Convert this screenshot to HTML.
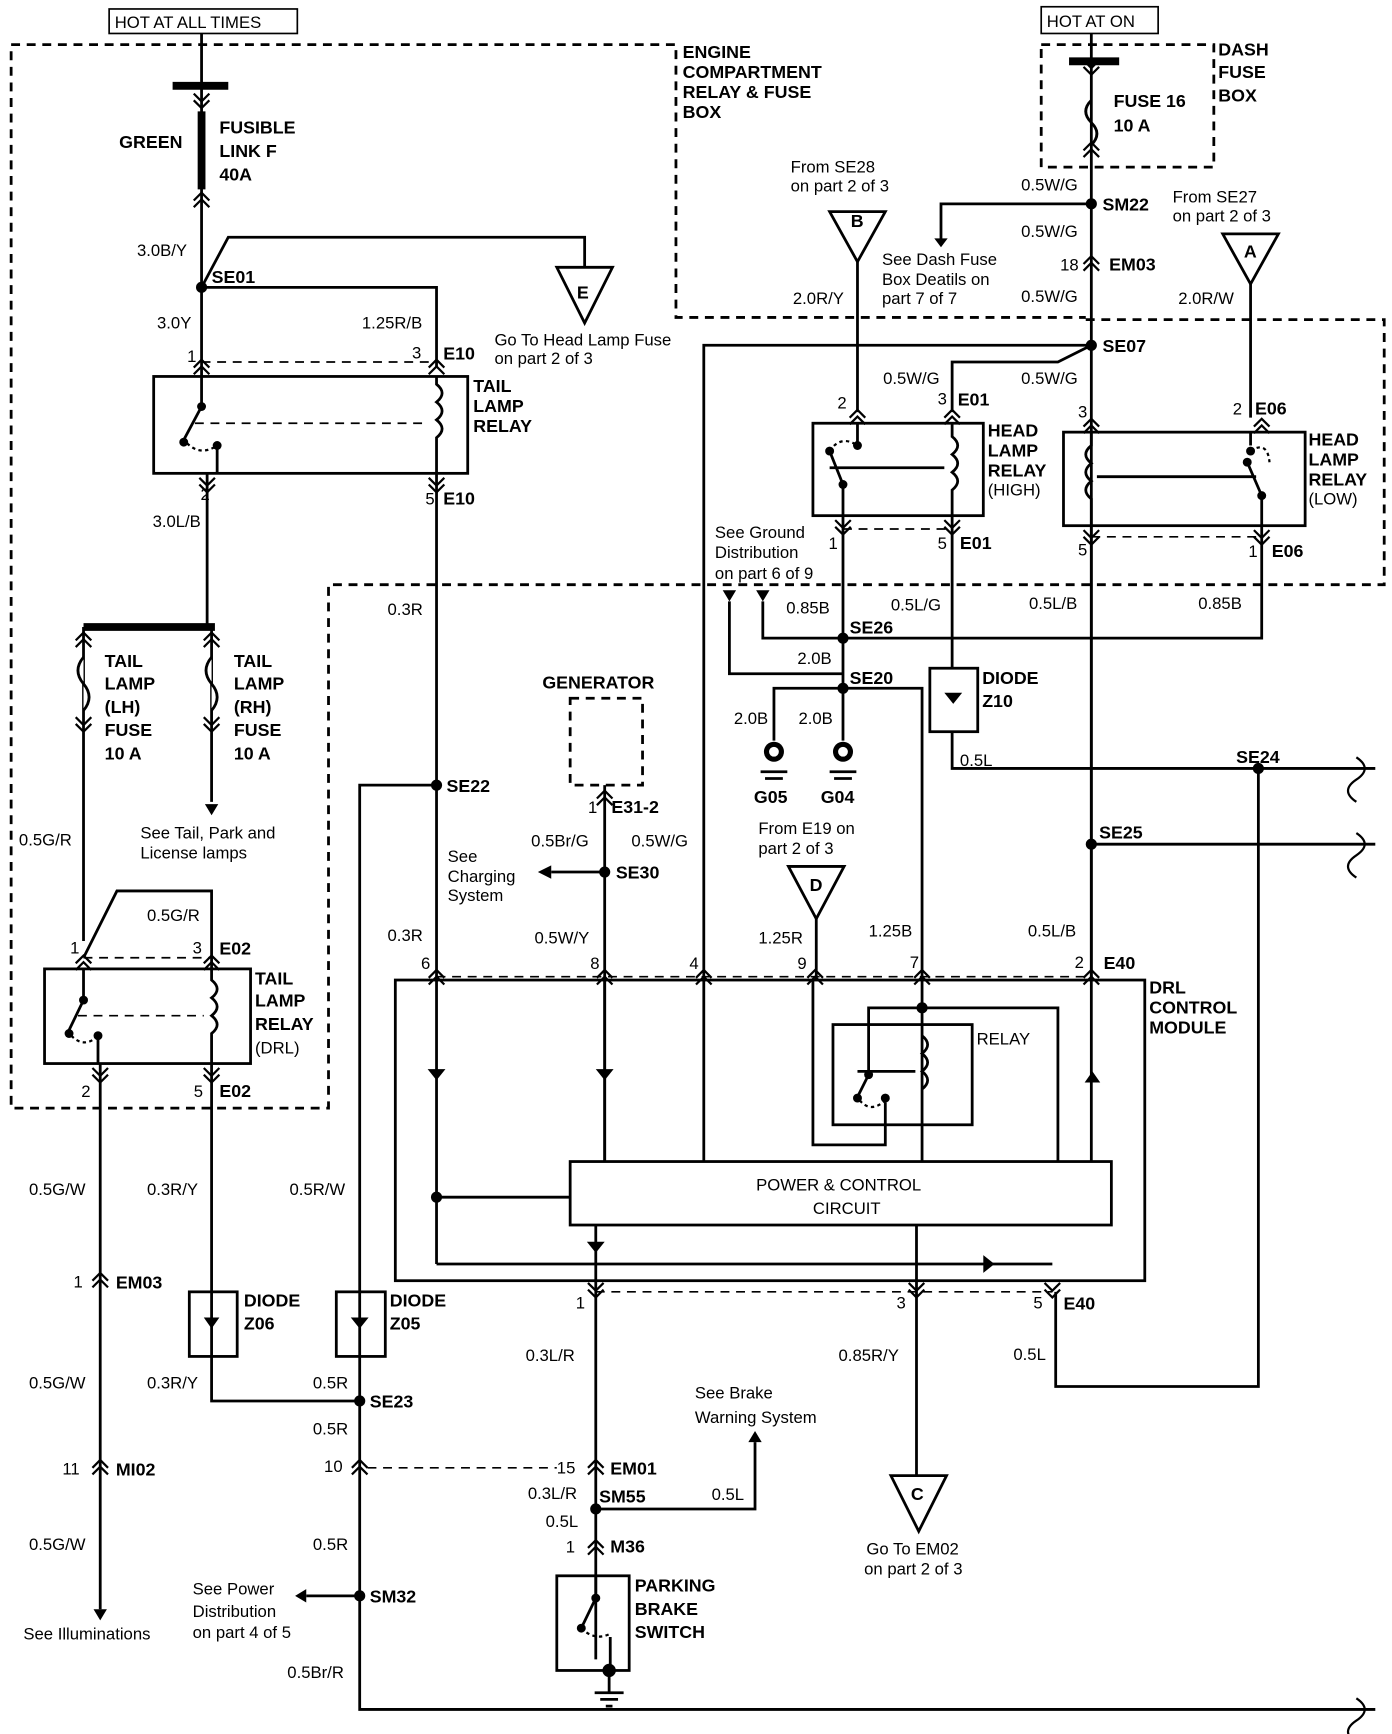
<!DOCTYPE html>
<html><head><meta charset="utf-8"><style>
html,body{margin:0;padding:0;background:#fff}
svg{display:block}
text{font-family:"Liberation Sans",sans-serif;font-size:15px;fill:#000}
.b{font-weight:bold;font-size:16px}
</style></head><body>
<svg width="1392" height="1734" viewBox="0 0 1250 1557" xmlns="http://www.w3.org/2000/svg">
<defs>
<path id="c" d="M-7,5 L0,-2 L7,5 M-7,11 L0,4 L7,11" fill="none" stroke="#000" stroke-width="2"/>
<path id="cd" d="M-7,-5 L0,2 L7,-5 M-7,-11 L0,-4 L7,-11" fill="none" stroke="#000" stroke-width="2"/>
</defs>
<g fill="none" stroke="#000" stroke-width="2.5">
<rect x="98" y="8" width="169" height="22" stroke-width="1.5"/>
<rect x="935" y="6" width="105" height="24" stroke-width="1.5"/>
<g stroke-dasharray="8,6" stroke-width="2.5">
<path d="M10,40 H607 V285 H975 M975,287 H1243 V525 H295 V995 H10 V40"/>
<rect x="935" y="40" width="155" height="110"/>
<rect x="512" y="627" width="65" height="78"/>
<path d="M181,325 H392 M757,475 H855 M980,482 H1133 M75,860 H190 M392,877 H980 M535,1160 H945 M330,1318 H500" stroke-width="1.5"/>
</g>
<path d="M181,30 V338"/>
<path d="M155,77 H205" stroke-width="7"/>
<path d="M181,100 V170" stroke-width="7"/>
<path d="M181,258 L205,213 H525 V240 M181,258 H392 V330"/>
<path d="M500,240 H550 L525,290 Z"/>
<rect x="138" y="338" width="282" height="87"/>
<path d="M181,338 V365 L165,395 M195,400 V425 M186,425 V560 M392,338 V345 q10,8 0,16 q10,8 0,16 q10,8 0,16 V425 M392,425 V1135"/>
<path d="M168,398 q12,12 27,2" stroke-dasharray="3,3" stroke-width="2"/>
<path d="M175,380 H385" stroke-dasharray="8,6" stroke-width="1.5"/>
<path d="M75,563 H193" stroke-width="7"/>
<path d="M75,563 V845 M190,563 V720"/>
<path d="M75,590 q-10,12 0,24 q10,12 0,24 M190,590 q-10,12 0,24 q10,12 0,24" fill="#fff"/>
<path d="M75,860 L105,800 H190 V870"/>
<rect x="40" y="870" width="185" height="85"/>
<path d="M75,870 V898 L62,925 M88,930 V955 M190,870 V880 q10,8 0,16 q10,8 0,16 q10,8 0,16 V955"/>
<path d="M64,930 q12,12 24,0" stroke-dasharray="3,3" stroke-width="2"/>
<path d="M70,912 H183" stroke-dasharray="8,6" stroke-width="1.5"/>
<path d="M90,955 V1445 M190,955 V1258 H323"/>
<rect x="170" y="1160" width="43" height="58"/>
<path d="M392,705 H323 V1535 H1235"/>
<rect x="302" y="1160" width="44" height="58"/>
<path d="M323,1433 H275"/>
<rect x="355" y="880" width="673" height="270"/>
<path d="M543,705 V1043 M543,783 H495 M632,1043 V310 H980 M980,30 V880 M980,183 H845 V215 M980,310 L950,325 H855 V370 M770,235 V370"/>
<path d="M745,190 H795 L770,235 Z M1098,210 H1148 L1123,255 Z M708,778 H758 L733,825 Z M800,1325 H850 L825,1375 Z"/>
<path d="M1123,255 V375"/>
<rect x="730" y="380" width="153" height="83"/>
<rect x="955" y="388" width="217" height="84"/>
<!-- head lamp high internals -->
<path d="M770,380 V400 M757,463 V435 M745,405 L757,435 M855,380 V392 q10,8 0,16 q10,8 0,16 q10,8 0,16 V463 M745,420 H848" />
<path d="M745,405 q10,-15 25,-5" stroke-dasharray="3,3" stroke-width="2"/>
<!-- head lamp low internals -->
<path d="M980,388 V400 q-10,8 0,16 q-10,8 0,16 q-10,8 0,16 V472 M1123,388 V400 M1133,472 V445 L1120,415 M985,428 H1128" />
<path d="M1123,405 q15,-10 17,10" stroke-dasharray="3,3" stroke-width="2"/>
<path d="M757,463 V618 M685,540 V573 H1133 V472 M655,540 V605 H757 M757,618 H695 V665 M757,618 V665 M757,618 H828 V880 M855,463 V600 M855,657 V690 H1235 M1130,690 V1245 H948 V1160 M980,758 H1235 M733,825 V880"/>
<rect x="835" y="600" width="43" height="57"/>
<path d="M980,472 V1043"/>
<rect x="748" y="920" width="125" height="90"/>
<path d="M392,1135 H945 M535,1100 V1160 M823,1100 V1325 M535,1160 V1490 M535,1355 H678 V1295 M730,880 V1028 H795 V990 M780,940 V965 L770,985 M828,880 V1043 M780,940 V905 H950 V1043 M828,920 V930 q10,8 0,16 q10,8 0,16 q10,8 0,16 V1043 M392,1075 H512 M543,880 V1043 M770,962 H822"/>
<path d="M772,988 q10,12 23,0" stroke-dasharray="3,3" stroke-width="2"/>
<rect x="512" y="1043" width="486" height="57"/>
<rect x="500" y="1415" width="65" height="85"/>
<path d="M535,1415 V1435 L522,1462 M548,1470 V1500"/>
<path d="M522,1462 q12,12 26,5" stroke-dasharray="3,3" stroke-width="2"/>
<path d="M1218,680 q15,10 0,20 M1218,700 q-15,10 0,20 M1218,748 q15,10 0,20 M1218,768 q-15,10 0,20 M1218,1525 q15,10 0,20 M1218,1545 q-15,10 0,20" stroke-width="2"/>
<path d="M547,1500 V1520 M534,1520 H560 M539,1526 H555 M544,1532 H550"/>
<path d="M683,693 H707 M687,699 H703 M745,693 H769 M749,699 H765"/>
</g>
<g fill="#000">
<circle cx="181" cy="258" r="5"/><circle cx="392" cy="705" r="5"/><circle cx="543" cy="783" r="5"/>
<circle cx="980" cy="183" r="5"/><circle cx="980" cy="310" r="5"/><circle cx="757" cy="573" r="5"/>
<circle cx="757" cy="618" r="5"/><circle cx="1130" cy="690" r="5"/><circle cx="980" cy="758" r="5"/>
<circle cx="323" cy="1258" r="5"/><circle cx="323" cy="1433" r="5"/><circle cx="535" cy="1355" r="5"/>
<circle cx="392" cy="1075" r="5"/><circle cx="828" cy="905" r="5"/><circle cx="547" cy="1500" r="6"/>
<circle cx="181" cy="365" r="4"/><circle cx="165" cy="397" r="4"/><circle cx="195" cy="400" r="4"/>
<circle cx="75" cy="898" r="4"/><circle cx="62" cy="928" r="4"/><circle cx="88" cy="930" r="4"/>
<circle cx="770" cy="400" r="4"/><circle cx="745" cy="405" r="4"/><circle cx="757" cy="435" r="4"/>
<circle cx="1123" cy="405" r="4"/><circle cx="1120" cy="415" r="4"/><circle cx="1133" cy="445" r="4"/>
<circle cx="780" cy="965" r="4"/><circle cx="770" cy="986" r="4"/><circle cx="795" cy="986" r="4"/>
<circle cx="535" cy="1435" r="4"/><circle cx="522" cy="1462" r="4"/>
<circle cx="695" cy="675" r="9"/><circle cx="757" cy="675" r="9"/>
<path d="M845,222 l-6,-8 h12z M265,1433 l10,-6 v12z M483,783 l12,-6 v12z M190,732 l-6,-10 h12z M90,1455 l-6,-10 h12z M678,1285 l-6,10 h12z M649,530 h12 l-6,10z M679,530 h12 l-6,10z"/>
<path d="M183,1183 h14 l-7,10z M315,1183 h16 l-8,10z M848,622 h16 l-8,10z M384,960 h16 l-8,10z M535,960 h16 l-8,10z M974,972 h14 l-7,-10z M527,1115 h16 l-8,10z M883,1127 v16 l10,-8z"/>
</g>
<g fill="none" stroke="#000" stroke-width="1.2">
<circle cx="695" cy="675" r="5" fill="#fff"/><circle cx="757" cy="675" r="5" fill="#fff"/>
</g>
<use href="#cd" x="181" y="95"/><use href="#c" x="181" y="175"/>
<use href="#c" x="181" y="325"/><use href="#c" x="392" y="325"/><use href="#cd" x="186" y="440"/><use href="#cd" x="392" y="440"/>
<use href="#c" x="75" y="570"/><use href="#c" x="190" y="570"/><use href="#cd" x="75" y="655"/><use href="#cd" x="190" y="655"/>
<use href="#c" x="75" y="860"/><use href="#c" x="190" y="860"/><use href="#cd" x="90" y="970"/><use href="#cd" x="190" y="970"/>
<use href="#c" x="90" y="1145"/><use href="#c" x="90" y="1313"/><use href="#c" x="323" y="1313"/><use href="#c" x="535" y="1313"/><use href="#c" x="535" y="1385"/>
<use href="#c" x="392" y="873"/><use href="#c" x="543" y="873"/><use href="#c" x="632" y="873"/><use href="#c" x="732" y="873"/><use href="#c" x="828" y="873"/><use href="#c" x="980" y="873"/>
<use href="#cd" x="535" y="1163"/><use href="#cd" x="823" y="1163"/><use href="#cd" x="945" y="1163"/>
<use href="#c" x="980" y="232"/><use href="#cd" x="980" y="65"/><use href="#c" x="980" y="130"/>
<use href="#c" x="770" y="370"/><use href="#c" x="855" y="370"/><use href="#cd" x="757" y="478"/><use href="#cd" x="855" y="478"/>
<use href="#c" x="980" y="378"/><use href="#c" x="1133" y="378"/><use href="#cd" x="980" y="487"/><use href="#cd" x="1133" y="487"/>
<use href="#c" x="543" y="712"/>
<path d="M960,55 H1005" stroke="#000" stroke-width="7"/>
<path d="M980,90 q-10,10 0,20 q10,10 0,20" stroke="#000" stroke-width="2.5" fill="none"/>
<text x="103" y="25">HOT AT ALL TIMES</text><text x="940" y="24">HOT AT ON</text>
<text class="b" x="613" y="52">ENGINE</text><text class="b" x="613" y="70">COMPARTMENT</text><text class="b" x="613" y="88">RELAY &amp; FUSE</text><text class="b" x="613" y="106">BOX</text>
<text class="b" x="1094" y="50">DASH</text><text class="b" x="1094" y="70">FUSE</text><text class="b" x="1094" y="91">BOX</text>
<text class="b" x="1000" y="96">FUSE 16</text><text class="b" x="1000" y="118">10 A</text>
<text class="b" x="107" y="133">GREEN</text><text class="b" x="197" y="120">FUSIBLE</text><text class="b" x="197" y="141">LINK F</text><text class="b" x="197" y="162">40A</text>
<text x="123" y="230">3.0B/Y</text><text class="b" x="190" y="254">SE01</text><text x="141" y="295">3.0Y</text><text x="325" y="295">1.25R/B</text>
<text class="b" x="518" y="268">E</text><text x="444" y="310">Go To Head Lamp Fuse</text><text x="444" y="327">on part 2 of 3</text>
<text x="168" y="325">1</text><text x="370" y="322">3</text><text class="b" x="398" y="323">E10</text>
<text class="b" x="425" y="352">TAIL</text><text class="b" x="425" y="370">LAMP</text><text class="b" x="425" y="388">RELAY</text>
<text x="180" y="449">2</text><text x="382" y="453">5</text><text class="b" x="398" y="453">E10</text><text x="137" y="473">3.0L/B</text>
<text class="b" x="94" y="599">TAIL</text><text class="b" x="94" y="619">LAMP</text><text class="b" x="94" y="640">(LH)</text><text class="b" x="94" y="661">FUSE</text><text class="b" x="94" y="682">10 A</text>
<text class="b" x="210" y="599">TAIL</text><text class="b" x="210" y="619">LAMP</text><text class="b" x="210" y="640">(RH)</text><text class="b" x="210" y="661">FUSE</text><text class="b" x="210" y="682">10 A</text>
<text x="126" y="753">See Tail, Park and</text><text x="126" y="771">License lamps</text>
<text x="17" y="759">0.5G/R</text><text x="132" y="827">0.5G/R</text>
<text x="63" y="856">1</text><text x="173" y="856">3</text><text class="b" x="197" y="857">E02</text>
<text class="b" x="229" y="884">TAIL</text><text class="b" x="229" y="904">LAMP</text><text class="b" x="229" y="925">RELAY</text><text x="229" y="946">(DRL)</text>
<text x="73" y="985">2</text><text x="174" y="985">5</text><text class="b" x="197" y="985">E02</text>
<text x="26" y="1073">0.5G/W</text><text x="132" y="1073">0.3R/Y</text><text x="260" y="1073">0.5R/W</text>
<text x="66" y="1156">1</text><text class="b" x="104" y="1157">EM03</text>
<text class="b" x="219" y="1173">DIODE</text><text class="b" x="219" y="1194">Z06</text><text class="b" x="350" y="1173">DIODE</text><text class="b" x="350" y="1194">Z05</text>
<text x="26" y="1247">0.5G/W</text><text x="132" y="1247">0.3R/Y</text><text x="281" y="1247">0.5R</text><text class="b" x="332" y="1264">SE23</text><text x="281" y="1288">0.5R</text>
<text x="56" y="1324">11</text><text class="b" x="104" y="1325">MI02</text><text x="291" y="1322">10</text>
<text x="26" y="1392">0.5G/W</text><text x="281" y="1392">0.5R</text>
<text x="173" y="1432">See Power</text><text x="173" y="1452">Distribution</text><text x="173" y="1471">on part 4 of 5</text><text class="b" x="332" y="1439">SM32</text>
<text x="21" y="1472">See Illuminations</text><text x="258" y="1507">0.5Br/R</text>
<text x="348" y="552">0.3R</text><text class="b" x="487" y="618">GENERATOR</text>
<text class="b" x="401" y="711">SE22</text><text x="528" y="730">1</text><text class="b" x="549" y="730">E31-2</text>
<text x="477" y="760">0.5Br/G</text><text x="567" y="760">0.5W/G</text><text class="b" x="553" y="789">SE30</text>
<text x="402" y="774">See</text><text x="402" y="792">Charging</text><text x="402" y="809">System</text>
<text x="348" y="845">0.3R</text><text x="480" y="847">0.5W/Y</text>
<text x="378" y="870">6</text><text x="530" y="870">8</text><text x="619" y="870">4</text><text x="716" y="870">9</text><text x="817" y="869">7</text><text x="965" y="869">2</text><text class="b" x="991" y="870">E40</text>
<text class="b" x="1032" y="892">DRL</text><text class="b" x="1032" y="910">CONTROL</text><text class="b" x="1032" y="928">MODULE</text>
<text x="877" y="938">RELAY</text>
<text x="679" y="1069">POWER &amp; CONTROL</text><text x="730" y="1090">CIRCUIT</text>
<text x="517" y="1175">1</text><text x="805" y="1175">3</text><text x="928" y="1175">5</text><text class="b" x="955" y="1176">E40</text>
<text x="472" y="1222">0.3L/R</text><text x="753" y="1222">0.85R/Y</text><text x="910" y="1221">0.5L</text>
<text x="624" y="1256">See Brake</text><text x="624" y="1278">Warning System</text>
<text x="500" y="1323">15</text><text class="b" x="548" y="1324">EM01</text><text x="474" y="1346">0.3L/R</text><text class="b" x="538" y="1349">SM55</text><text x="639" y="1347">0.5L</text>
<text x="490" y="1371">0.5L</text><text x="508" y="1394">1</text><text class="b" x="548" y="1394">M36</text>
<text class="b" x="570" y="1429">PARKING</text><text class="b" x="570" y="1450">BRAKE</text><text class="b" x="570" y="1471">SWITCH</text>
<text class="b" x="818" y="1347">C</text><text x="778" y="1396">Go To EM02</text><text x="776" y="1414">on part 2 of 3</text>
<text x="710" y="155">From SE28</text><text x="710" y="172">on part 2 of 3</text><text class="b" x="764" y="204">B</text>
<text x="917" y="171">0.5W/G</text><text class="b" x="990" y="189">SM22</text><text x="1053" y="182">From SE27</text><text x="1053" y="199">on part 2 of 3</text>
<text x="917" y="213">0.5W/G</text><text x="792" y="238">See Dash Fuse</text><text x="792" y="256">Box Deatils on</text><text x="792" y="273">part 7 of 7</text>
<text x="952" y="243">18</text><text class="b" x="996" y="243">EM03</text><text class="b" x="1117" y="231">A</text>
<text x="712" y="273">2.0R/Y</text><text x="917" y="271">0.5W/G</text><text x="1058" y="273">2.0R/W</text>
<text class="b" x="990" y="316">SE07</text><text x="793" y="345">0.5W/G</text><text x="917" y="345">0.5W/G</text>
<text x="752" y="367">2</text><text x="842" y="363">3</text><text class="b" x="860" y="364">E01</text><text x="968" y="375">3</text><text x="1107" y="372">2</text><text class="b" x="1127" y="372">E06</text>
<text class="b" x="887" y="392">HEAD</text><text class="b" x="887" y="410">LAMP</text><text class="b" x="887" y="428">RELAY</text><text x="887" y="445">(HIGH)</text>
<text class="b" x="1175" y="400">HEAD</text><text class="b" x="1175" y="418">LAMP</text><text class="b" x="1175" y="436">RELAY</text><text x="1175" y="453">(LOW)</text>
<text x="642" y="483">See Ground</text><text x="642" y="501">Distribution</text><text x="642" y="520">on part 6 of 9</text>
<text x="744" y="493">1</text><text x="842" y="493">5</text><text class="b" x="862" y="493">E01</text><text x="968" y="499">5</text><text x="1121" y="500">1</text><text class="b" x="1142" y="500">E06</text>
<text x="706" y="551">0.85B</text><text x="800" y="548">0.5L/G</text><text x="924" y="547">0.5L/B</text><text x="1076" y="547">0.85B</text>
<text class="b" x="763" y="569">SE26</text><text x="716" y="596">2.0B</text><text class="b" x="763" y="614">SE20</text>
<text class="b" x="882" y="614">DIODE</text><text class="b" x="882" y="635">Z10</text>
<text x="659" y="650">2.0B</text><text x="717" y="650">2.0B</text><text class="b" x="677" y="721">G05</text><text class="b" x="737" y="721">G04</text>
<text x="862" y="688">0.5L</text><text class="b" x="1110" y="685">SE24</text><text class="b" x="987" y="753">SE25</text>
<text x="681" y="749">From E19 on</text><text x="681" y="767">part 2 of 3</text><text class="b" x="727" y="800">D</text>
<text x="681" y="847">1.25R</text><text x="780" y="841">1.25B</text><text x="923" y="841">0.5L/B</text>
</svg>
</body></html>
